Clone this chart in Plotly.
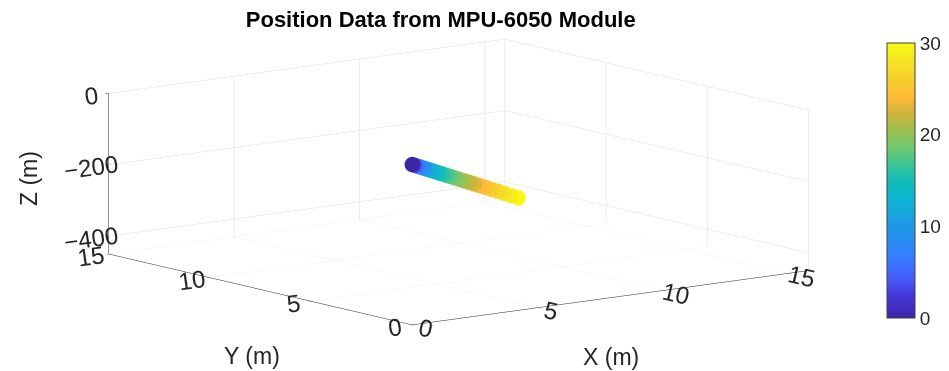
import plotly.graph_objects as go

# time (s) used for colour
t = [0, 1, 2, 3, 4, 5, 6, 7, 8, 9, 10, 11, 12, 13, 14, 15, 16, 17, 18, 19, 20,
     21, 22, 23, 24, 25, 26, 27, 28, 29, 30]
# position X (m)
x_pos = [0, 0.018, 0.070, 0.158, 0.281, 0.439, 0.632, 0.860, 1.124, 1.422, 1.756,
         2.124, 2.528, 2.967, 3.441, 3.95, 4.494, 5.074, 5.688, 6.338, 7.022,
         7.742, 8.497, 9.287, 10.112, 10.972, 11.868, 12.798, 13.764, 14.764, 15.8]
# position Y (m)
y_pos = [0, 0.016, 0.064, 0.144, 0.255, 0.399, 0.574, 0.782, 1.021, 1.292, 1.596,
         1.931, 2.298, 2.697, 3.127, 3.59, 4.085, 4.611, 5.170, 5.760, 6.382,
         7.036, 7.723, 8.441, 9.190, 9.972, 10.786, 11.632, 12.509, 13.419, 14.36]
# position Z (m)
z_pos = [0, -0.5, -1.9, -4.4, -7.7, -12.1, -17.4, -23.7, -30.9, -39.2, -48.3,
         -58.5, -69.6, -81.7, -94.7, -108.8, -123.7, -139.7, -156.6, -174.5, -193.3,
         -213.2, -233.9, -255.7, -278.4, -302.1, -326.7, -352.4, -378.9, -406.5, -435.0]

x_ticks = [0, 5, 10, 15]
y_ticks = [0, 5, 10, 15]
z_ticks = [-400, -200, 0]
c_ticks = [0, 10, 20, 30]

parula = [
    [0.000, "#3e26a8"], [0.083, "#4637d9"], [0.125, "#4750f2"], [0.19, "#3a71fe"],
    [0.25, "#2e87f7"], [0.33, "#1f97e8"], [0.375, "#1aa4df"], [0.44, "#0ab7ce"],
    [0.50, "#13beb7"], [0.56, "#3dc595"], [0.625, "#75c86b"], [0.69, "#a5be4c"],
    [0.75, "#d2b438"], [0.80, "#fdba38"], [0.875, "#f6d22a"], [0.94, "#f5e623"],
    [1.000, "#f9fb0e"],
]

FONT = "Liberation Sans"

fig = go.Figure()
fig.add_trace(go.Scatter3d(
    x=x_pos, y=y_pos, z=z_pos, mode="markers",
    marker=dict(size=9, color=t, colorscale=parula, cmin=0, cmax=30, opacity=1,
                colorbar=dict(tickvals=c_ticks, len=0.741, lenmode="fraction",
                              thickness=28, x=0.9266, xanchor="left", xpad=0,
                              y=0.535, yanchor="middle", ypad=0,
                              outlinecolor="#404040", outlinewidth=1,
                              ticks="", tickfont=dict(family=FONT, size=19,
                                                      color="#262626"))),
    showlegend=False, hoverinfo="skip"))

axis_common = dict(showbackground=False, gridcolor="#dcdcdc", gridwidth=1,
                   showline=True, linecolor="#262626", linewidth=1,
                   zeroline=False, showspikes=False, ticks="outside", ticklen=4,
                   tickcolor="#262626", title=dict(text=""),
                   tickfont=dict(family=FONT, size=17, color="#262626"))
title_font = dict(family=FONT, size=23, color="#262626")

S = 3.2
eye_dir = (-0.435, -0.568, 0.13)
D = 8.0

fig.update_layout(
    width=949, height=371,
    margin=dict(l=0, r=0, t=0, b=0),
    paper_bgcolor="white",
    title=dict(text="<b>Position Data from MPU-6050 Module</b>", x=0.456, xanchor="center",
               y=0.97, yanchor="middle",
               font=dict(family=FONT, size=22, color="black")),
    scene=dict(
        domain=dict(x=[0.015, 0.935], y=[0.111, 0.951]),
        xaxis=dict(range=[0, 15.8], tickvals=x_ticks, **axis_common),
        yaxis=dict(range=[0, 15], tickvals=y_ticks, **axis_common),
        zaxis=dict(range=[-450, 0], tickvals=z_ticks, **axis_common),
        aspectmode="manual",
        aspectratio=dict(x=S, y=S, z=0.327 * S),
        camera=dict(eye=dict(x=eye_dir[0] * D, y=eye_dir[1] * D, z=eye_dir[2] * D),
                    up=dict(x=0, y=0, z=1),
                    center=dict(x=0, y=0, z=0),
                    projection=dict(type="orthographic")),
    ),
    annotations=[
        dict(text="X (m)", x=603 / 949, y=1 - 349 / 371, xref="paper", yref="paper",
             xanchor="center", yanchor="middle", showarrow=False, font=title_font),
        dict(text="Y (m)", x=244 / 949, y=1 - 348 / 371, xref="paper", yref="paper",
             xanchor="center", yanchor="middle", showarrow=False, font=title_font),
        dict(text="Z (m)", x=21 / 949, y=1 - 171 / 371, xref="paper", yref="paper",
             xanchor="center", yanchor="middle", showarrow=False, textangle=-90,
             font=title_font),
    ],
)

fig.write_html("out.html")
